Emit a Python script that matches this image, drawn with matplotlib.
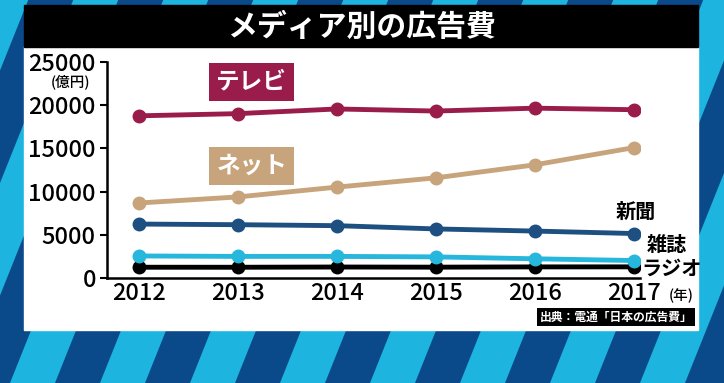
import numpy as np
import matplotlib.pyplot as plt
from matplotlib.patches import Rectangle, Polygon

plt.rcParams['font.family'] = ['Noto Sans CJK JP', 'DejaVu Sans']

# データ（億円）
years = [2012, 2013, 2014, 2015, 2016, 2017]
tv = [18770, 19023, 19564, 19323, 19657, 19478]
net = [8680, 9381, 10519, 11594, 13100, 15094]
paper = [6242, 6170, 6057, 5679, 5431, 5147]
magazine = [2551, 2499, 2500, 2443, 2223, 2023]
radio = [1246, 1243, 1272, 1254, 1285, 1290]
yticks = [0, 5000, 10000, 15000, 20000, 25000]

W, H = 724, 383
fig = plt.figure(figsize=(W / 100, H / 100), dpi=100)

# 背景（ストライプ・パネル・タイトル）
bg = fig.add_axes([0, 0, 1, 1])
bg.set_xlim(0, W)
bg.set_ylim(H, 0)
bg.axis('off')
bg.add_patch(Rectangle((0, 0), W, H, color='#0b4a8a'))
period = 90
lean = 0.4
for k in range(-4, 14):
    x0 = k * period + 10
    pts = [(x0, H), (x0 + 45, H), (x0 + 45 + lean * H, 0), (x0 + lean * H, 0)]
    bg.add_patch(Polygon(pts, closed=True, color='#1db5df', lw=0))
bg.add_patch(Rectangle((24, 46), 674, 284, color='white'))
bg.add_patch(Rectangle((24, 5), 674, 42, color='black'))
bg.text(362, 27, 'メディア別の広告費', color='white', fontsize=21.5,
        fontweight='bold', ha='center', va='center')
bg.text(70, 82, '(億円)', fontsize=10.5, fontweight='medium',
        ha='center', va='center')
bg.text(681, 296, '(年)', fontsize=10.5, fontweight='medium',
        ha='center', va='center')
bg.text(616, 317, '出典：電通「日本の広告費」', color='white', fontsize=8.5,
        fontweight='bold', ha='center', va='center',
        bbox=dict(boxstyle='square,pad=0.2', fc='black', ec='none'))

# グラフ本体
ax = fig.add_axes([107 / W, 105 / H, 533 / W, 216 / H])
ax.patch.set_alpha(0)
ax.set_xlim(2011.68, 2017.06)
ax.set_ylim(0, 25000)

lw, ms = 3.5, 9
ax.plot(years, radio, color='black', lw=lw, marker='o', ms=ms, zorder=3)
ax.plot(years, magazine, color='#27b7dc', lw=lw, marker='o', ms=ms, zorder=3)
ax.plot(years, paper, color='#1d4f80', lw=lw, marker='o', ms=ms, zorder=3)
ax.plot(years, net, color='#c8a47c', lw=lw, marker='o', ms=ms, zorder=3)
ax.plot(years, tv, color='#9a1c4a', lw=lw, marker='o', ms=ms, zorder=3)

ax.set_xticks(years)
ax.set_xticklabels([str(y) for y in years], fontsize=17, fontweight='medium')
ax.set_yticks(yticks)
ax.set_yticklabels([str(v) for v in yticks], fontsize=17, fontweight='medium')
ax.tick_params(axis='x', length=0, pad=3)
ax.tick_params(axis='y', length=5, width=1.5, pad=3)
for s in ['top', 'right']:
    ax.spines[s].set_visible(False)
ax.spines['left'].set_linewidth(1.8)
ax.spines['bottom'].set_linewidth(1.8)

# ラベル
ax.text(2013.14, 22700, 'テレビ', color='white', fontsize=17, fontweight='bold',
        ha='center', va='center',
        bbox=dict(boxstyle='square,pad=0.3', fc='#9a1c4a', ec='none'))
ax.text(2013.14, 12950, 'ネット', color='white', fontsize=17, fontweight='bold',
        ha='center', va='center',
        bbox=dict(boxstyle='square,pad=0.3', fc='#c8a47c', ec='none'))
ax.text(2017.02, 7750, '新聞', fontsize=14.5, fontweight='bold',
        ha='center', va='center', clip_on=False)
ax.text(2017.33, 3850, '雑誌', fontsize=14.5, fontweight='bold',
        ha='center', va='center', clip_on=False)
ax.text(2017.38, 1150, 'ラジオ', fontsize=14.5, fontweight='bold',
        ha='center', va='center', clip_on=False)

fig.savefig('out.png', dpi=100)
